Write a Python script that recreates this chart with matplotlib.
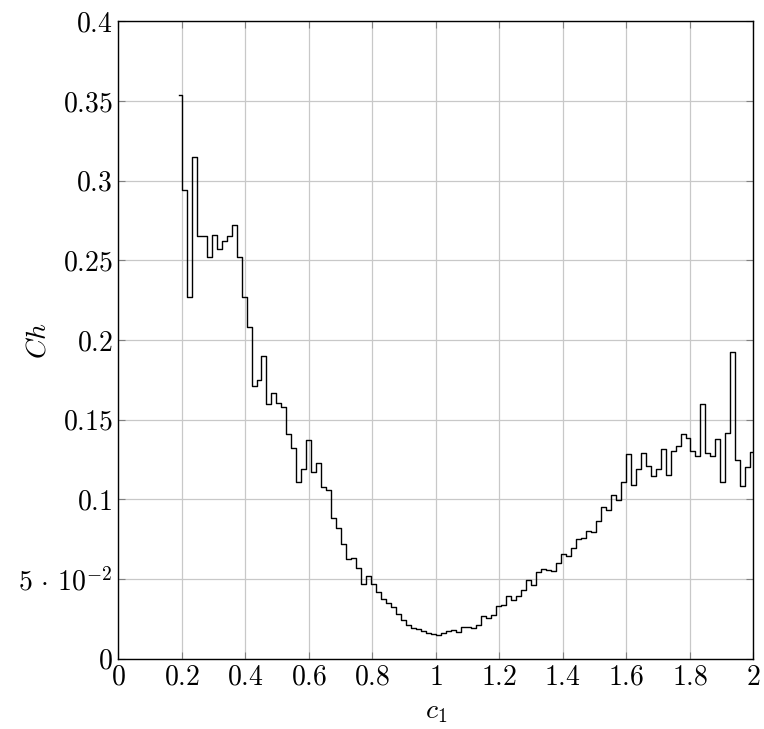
import numpy as np
import matplotlib
matplotlib.use('Agg')
import matplotlib.pyplot as plt

# step values of Ch (116 bins, c1 from ~0.19 to ~2)
ch = [0.354, 0.294, 0.227, 0.315, 0.265, 0.265, 0.252, 0.266, 0.257, 0.262,
      0.265, 0.272, 0.252, 0.227, 0.208, 0.171, 0.175, 0.190, 0.160, 0.167,
      0.1605, 0.158, 0.141, 0.132, 0.111, 0.119, 0.1375, 0.117, 0.1226, 0.108,
      0.106, 0.0886, 0.082, 0.072, 0.0626, 0.0635, 0.057, 0.0467, 0.0517, 0.0469,
      0.0418, 0.0375, 0.035, 0.0324, 0.0278, 0.0245, 0.0214, 0.0193, 0.019, 0.0174,
      0.0159, 0.0157, 0.0151, 0.0159, 0.0176, 0.018, 0.0166, 0.0199, 0.0201, 0.0191,
      0.021, 0.0268, 0.0258, 0.0274, 0.0333, 0.0339, 0.0391, 0.0366, 0.0393, 0.0429,
      0.0492, 0.0462, 0.0542, 0.0563, 0.0554, 0.0553, 0.060, 0.0657, 0.0647, 0.0697,
      0.0751, 0.0758, 0.0801, 0.0793, 0.0862, 0.095, 0.0931, 0.1027, 0.0998, 0.1111,
      0.1282, 0.109, 0.119, 0.129, 0.1212, 0.1147, 0.1189, 0.1314, 0.1155, 0.1306,
      0.1333, 0.1408, 0.1387, 0.1304, 0.1272, 0.1598, 0.1289, 0.1272, 0.1377, 0.1111,
      0.1416, 0.1922, 0.1245, 0.1086, 0.1205, 0.1297]
c1 = np.linspace(0.1921, 1.9989, len(ch))

xticks = [0, 0.2, 0.4, 0.6, 0.8, 1, 1.2, 1.4, 1.6, 1.8, 2]
xticklabels = ['$0$', '$0.2$', '$0.4$', '$0.6$', '$0.8$', '$1$', '$1.2$', '$1.4$', '$1.6$', '$1.8$', '$2$']
yticks = [0, 0.05, 0.1, 0.15, 0.2, 0.25, 0.3, 0.35, 0.4]
yticklabels = ['$0$', r'$5\,\cdot\,10^{-2}$', '$0.1$', '$0.15$', '$0.2$', '$0.25$', '$0.3$', '$0.35$', '$0.4$']

plt.rcParams['mathtext.fontset'] = 'cm'
plt.rcParams['font.family'] = 'serif'
plt.rcParams['font.serif'] = ['cmr10', 'DejaVu Serif']

fig = plt.figure(figsize=(7.64, 7.29), dpi=100)
ax = fig.add_axes([118.2 / 764, 70.2 / 729, 635.0 / 764, 637.6 / 729])

ax.step(c1, ch, where='mid', color='black', lw=1.0)

ax.set_xlim(0, 2)
ax.set_ylim(0, 0.4)
ax.set_xticks(xticks)
ax.set_xticklabels(xticklabels)
ax.set_yticks(yticks)
ax.set_yticklabels(yticklabels)
ax.grid(True, color='#c8c8c8', lw=0.9)
ax.set_axisbelow(True)
ax.tick_params(direction='in', length=5, width=0.8, color='#808080',
               top=True, right=True, labelsize=20, pad=4)
for s in ax.spines.values():
    s.set_linewidth(1.0)

ax.set_xlabel('$c_1$', fontsize=20, labelpad=6)
ax.set_ylabel('$Ch$', fontsize=20)
ax.yaxis.set_label_coords(-0.105, 0.5)

fig.savefig('out.png', dpi=100)
